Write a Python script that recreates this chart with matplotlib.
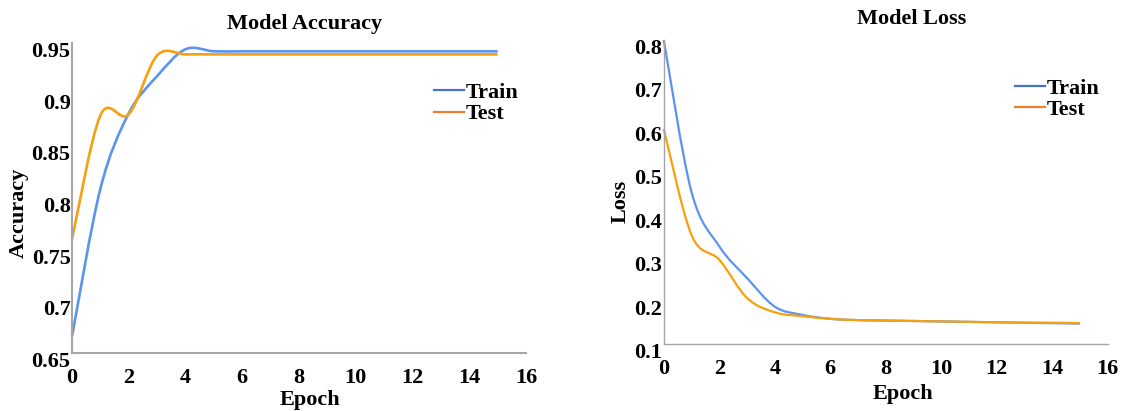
import numpy as np
import matplotlib
matplotlib.use('Agg')
import matplotlib.pyplot as plt
from matplotlib.path import Path
from matplotlib.patches import PathPatch
from matplotlib.lines import Line2D
from matplotlib.transforms import ScaledTranslation

plt.rcParams['font.family'] = ['Liberation Serif', 'DejaVu Serif']
plt.rcParams['font.weight'] = 'bold'
plt.rcParams['font.size'] = 16

# values, one per epoch (0..15)
epochs = list(range(16))
acc_train = [0.666, 0.809, 0.882, 0.918, 0.944, 0.942, 0.942, 0.942,
             0.942, 0.942, 0.942, 0.942, 0.942, 0.942, 0.942, 0.942]
acc_test = [0.760, 0.880, 0.881, 0.938, 0.939, 0.939, 0.939, 0.939,
            0.939, 0.939, 0.939, 0.939, 0.939, 0.939, 0.939, 0.939]
loss_train = [0.800, 0.450, 0.325, 0.252, 0.186, 0.167, 0.158, 0.155,
              0.154, 0.153, 0.152, 0.151, 0.150, 0.149, 0.148, 0.147]
loss_test = [0.595, 0.351, 0.294, 0.206, 0.173, 0.164, 0.158, 0.155,
             0.154, 0.153, 0.152, 0.151, 0.150, 0.149, 0.149, 0.148]

acc_ticks = [0.65, 0.7, 0.75, 0.8, 0.85, 0.9, 0.95]
loss_ticks = [0.1, 0.2, 0.3, 0.4, 0.5, 0.6, 0.7, 0.8]
x_ticks = list(range(0, 17, 2))

BLUE = '#5b93f0'
ORANGE = '#f5a00f'
LEG_BLUE = '#4472c4'
LEG_ORANGE = '#ed7d31'
GRAY = '#a6a6a6'


def smooth_line(ax, x, y, color, lw):
    # excel-style smoothed line: cubic bezier through every point
    pts = np.column_stack([x, y]).astype(float)
    n = len(pts)
    verts = [pts[0]]
    codes = [Path.MOVETO]
    for i in range(n - 1):
        p0 = pts[max(i - 1, 0)]
        p1 = pts[i]
        p2 = pts[i + 1]
        p3 = pts[min(i + 2, n - 1)]
        verts += [p1 + (p2 - p0) / 6.0, p2 - (p3 - p1) / 6.0, p2]
        codes += [Path.CURVE4] * 3
    patch = PathPatch(Path(verts, codes), facecolor='none', edgecolor=color,
                      lw=lw, transform=ax.transData, clip_on=False,
                      capstyle='butt', joinstyle='round')
    ax.add_patch(patch)


fig = plt.figure(figsize=(11.25, 4.11), dpi=100)
ax1 = fig.add_axes([0.064, 0.141, 0.4036, 0.7543])
ax2 = fig.add_axes([0.590, 0.163, 0.3947, 0.7397])

panels = [
    (ax1, acc_train, acc_test, acc_ticks, 'Model Accuracy', 'Accuracy', 1.9, 1.5,
     (0.513, 1.062), (0.524, -0.152), (-0.117, 0.452), (0.797, 0.874)),
    (ax2, loss_train, loss_test, loss_ticks, 'Model Loss', 'Loss', 1.6, 1.0,
     (0.559, 1.068), (0.538, -0.163), (-0.097, 0.47), (0.79, 0.875)),
]

for (ax, tr, te, yt, title, ylab, lw, spw, tpos, xlpos, ylpos, legpos) in panels:
    smooth_line(ax, epochs, tr, BLUE, lw)
    smooth_line(ax, epochs, te, ORANGE, lw)
    ax.set_xlim(0, 16)
    ax.set_ylim(yt[0], yt[-1])
    ax.set_xticks(x_ticks)
    ax.set_yticks(yt)
    ax.set_yticklabels([('%.2f' % v).rstrip('0') for v in yt])
    ax.tick_params(axis='both', length=0, labelsize=16)
    ax.tick_params(axis='x', pad=11)
    ax.tick_params(axis='y', pad=1)
    for lab in ax.get_yticklabels():
        lab.set_transform(lab.get_transform() + ScaledTranslation(0, -0.065, fig.dpi_scale_trans))
    for s in ['top', 'right']:
        ax.spines[s].set_visible(False)
    for s in ['left', 'bottom']:
        ax.spines[s].set_color(GRAY)
        ax.spines[s].set_linewidth(spw)
    ax.text(tpos[0], tpos[1], title, transform=ax.transAxes, ha='center',
            va='center', fontsize=16, fontweight='bold')
    ax.text(xlpos[0], xlpos[1], 'Epoch', transform=ax.transAxes, ha='center',
            va='center', fontsize=16, fontweight='bold')
    ax.text(ylpos[0], ylpos[1], ylab, transform=ax.transAxes, ha='center',
            va='center', rotation=90, fontsize=16, fontweight='bold')
    handles = [Line2D([], [], color=LEG_BLUE, lw=1.6),
               Line2D([], [], color=LEG_ORANGE, lw=1.6)]
    ax.legend(handles, ['Train', 'Test'], loc='upper left', bbox_to_anchor=legpos,
              frameon=False, borderpad=0, borderaxespad=0, handlelength=1.35,
              handletextpad=0.1, labelspacing=0.05,
              prop={'size': 16, 'weight': 'bold'})

fig.savefig('out.png', dpi=100)
